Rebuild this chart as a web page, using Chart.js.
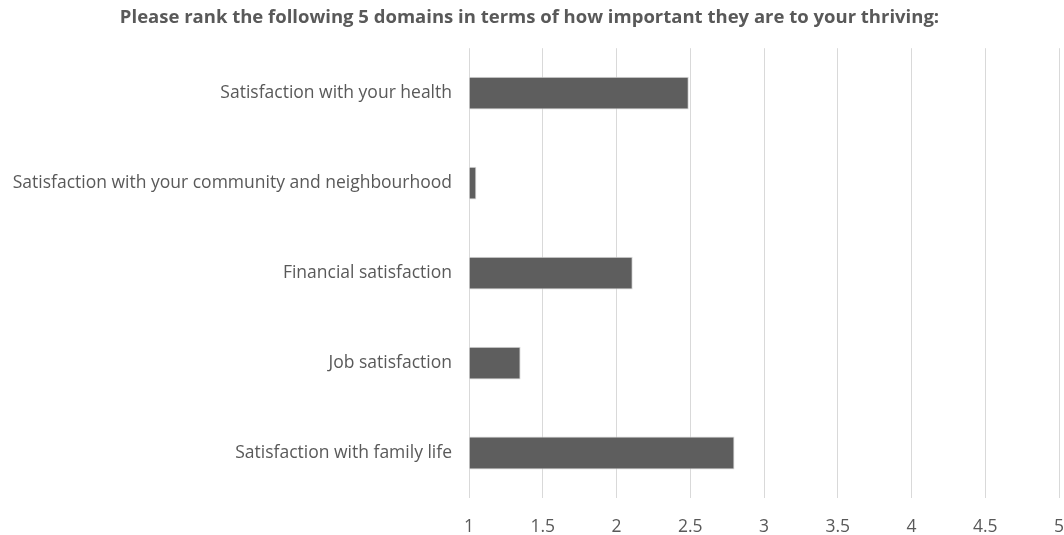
<!DOCTYPE html>
<html>
<head>
<meta charset="utf-8">
<script src="https://cdn.jsdelivr.net/npm/chart.js@4"></script>
<style>
  body { margin: 0; background: #fff; }
  #wrap { width: 1064px; height: 535px; position: relative; }
</style>
</head>
<body>
<div id="wrap"><canvas id="rank-chart"></canvas></div>
<script>
const categories = [
    "Satisfaction with your health",
    "Satisfaction with your community and neighbourhood",
    "Financial satisfaction",
    "Job satisfaction",
    "Satisfaction with family life"
];
const rankValues = [2.49, 1.05, 2.11, 1.35, 2.80];
const xTicks = [1, 1.5, 2, 2.5, 3, 3.5, 4, 4.5, 5];

const labelFont = {family: "'Open Sans', sans-serif", size: 17.5};
const textColor = '#595959';

const ctx = document.getElementById("rank-chart").getContext("2d");
new Chart(ctx, {
    type: 'bar',
    data: {
        labels: categories,
        datasets: [{
            data: rankValues,
            base: 1,
            backgroundColor: '#5e5e5e',
            borderColor: '#d9d9d9',
            borderWidth: 1,
            barPercentage: 0.365,
            categoryPercentage: 1
        }]
    },
    options: {
        indexAxis: 'y',
        responsive: true,
        maintainAspectRatio: false,
        animation: false,
        layout: {padding: {left: 0, right: 5, top: 0, bottom: 0}},
        scales: {
            x: {
                min: 1,
                max: 5,
                afterBuildTicks: scale => {
                    scale.ticks = xTicks.map(v => ({value: v}));
                },
                afterFit: scale => {
                    scale.height = 37;
                    // keep the end labels from shrinking the plot
                    scale.paddingLeft = 0;
                    scale.paddingRight = 0;
                },
                grid: {color: '#d9d9d9', drawTicks: false},
                border: {display: false},
                ticks: {
                    color: textColor,
                    font: labelFont,
                    padding: 19,
                    maxRotation: 0,
                    callback: v => String(v)
                }
            },
            y: {
                afterFit: scale => { scale.width = 469; },
                grid: {display: false},
                border: {display: false},
                ticks: {color: textColor, font: labelFont, padding: 9}
            }
        },
        plugins: {
            legend: {display: false},
            tooltip: {enabled: false},
            title: {
                display: true,
                text: "Please rank the following 5 domains in terms of how important they are to your thriving:",
                color: textColor,
                font: {family: "'Open Sans', sans-serif", size: 18.5, weight: 'bold'},
                padding: {top: 7, bottom: 19}
            }
        }
    }
});
</script>
</body>
</html>
